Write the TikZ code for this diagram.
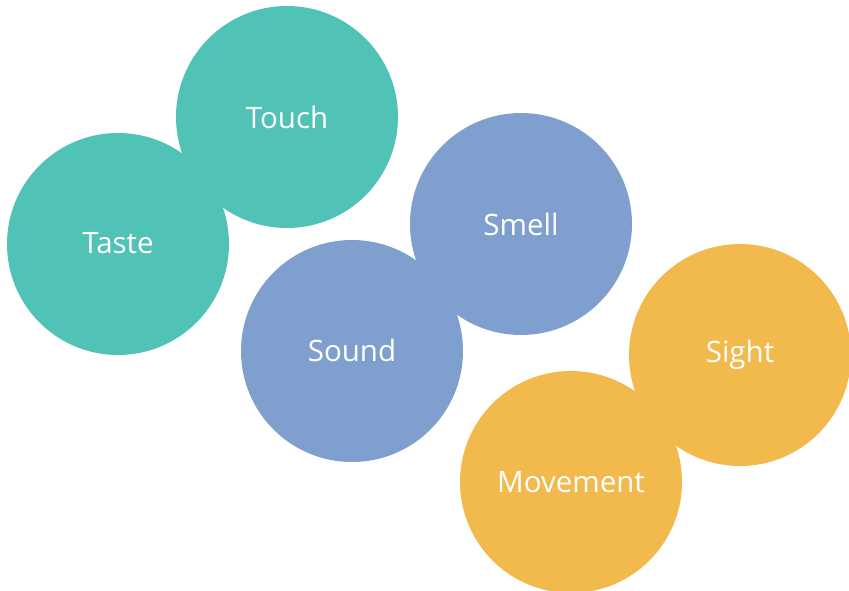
\documentclass[tikz,border=0pt]{standalone}
\usepackage{fontspec}
\setmainfont{Open Sans}
\definecolor{teal1}{RGB}{80,194,182}
\definecolor{blue1}{RGB}{127,159,207}
\definecolor{gold1}{RGB}{242,185,77}
\begin{document}
\begin{tikzpicture}[x=1pt,y=-1pt,
  sense/.style={circle,minimum size=222pt,inner sep=0pt,text=white,font=\fontsize{29.5}{34}\selectfont}]
\useasboundingbox (0,0) rectangle (849,590);
\node[sense,fill=teal1] (touch) at (287,117) {Touch};
\node[sense,fill=teal1] (taste) at (118,244) {\raisebox{1.5pt}{Taste}};
\node[sense,fill=blue1] (smell) at (521,224) {Smell};
\node[sense,fill=blue1] (sound) at (352,351) {\raisebox{1.5pt}{Sound}};
\node[sense,fill=gold1] (sight) at (740,355) {\raisebox{-3pt}{Sight}};
\node[sense,fill=gold1] (movement) at (571,482) {Movement};
\end{tikzpicture}
\end{document}
